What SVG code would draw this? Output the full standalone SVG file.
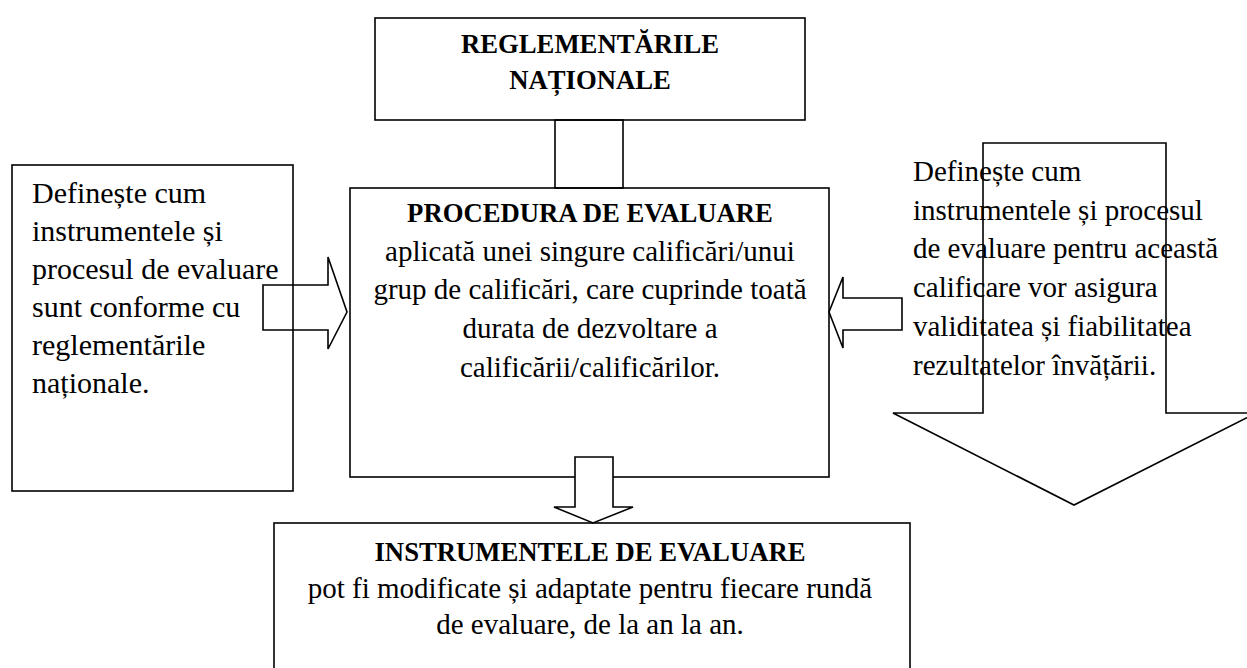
<svg xmlns="http://www.w3.org/2000/svg" width="1247" height="668" viewBox="0 0 1247 668">
<style>
.box{fill:#fff;stroke:#000;stroke-width:1.6}
.arr{fill:none;stroke:#000;stroke-width:1.6;stroke-linejoin:miter}
.arrf{fill:#fff;stroke:#000;stroke-width:1.6;stroke-linejoin:miter}
.t{font-family:"Liberation Serif","Times New Roman",serif;font-size:29px;fill:#000}
.tl{font-family:"Liberation Serif","Times New Roman",serif;font-size:30px;fill:#000}
.b{font-family:"Liberation Serif","Times New Roman",serif;font-size:26.7px;font-weight:bold;fill:#000}
.c{text-anchor:middle}
</style>
<rect width="1247" height="668" fill="#fff"/>
<g id="top-node">
<rect class="box" x="375" y="18" width="430" height="102"/>
<text class="b c" x="590" y="53">REGLEMENTĂRILE</text>
<text class="b c" x="590" y="89">NAȚIONALE</text>
</g>
<g id="left-node">
<rect class="box" x="12" y="165" width="281" height="326"/>
<text class="tl" x="32" y="203">Definește cum</text>
<text class="tl" x="32" y="241">instrumentele și</text>
<text class="tl" x="32" y="279">procesul de evaluare</text>
<text class="tl" x="32" y="317">sunt conforme cu</text>
<text class="tl" x="32" y="355">reglementările</text>
<text class="tl" x="32" y="393">naționale.</text>
</g>
<g id="main-node">
<rect class="box" x="350" y="188" width="479" height="289"/>
<text class="b c" x="590" y="222">PROCEDURA DE EVALUARE</text>
<text class="t c" x="590" y="261">aplicată unei singure calificări/unui</text>
<text class="t c" x="590" y="299">grup de calificări, care cuprinde toată</text>
<text class="t c" x="590" y="338">durata de dezvoltare a</text>
<text class="t c" x="590" y="377">calificării/calificărilor.</text>
</g>
<g id="bottom-node">
<rect class="box" x="274" y="523" width="636" height="150"/>
<text class="b c" x="590" y="561">INSTRUMENTELE DE EVALUARE</text>
<text class="t c" x="590" y="598">pot fi modificate și adaptate pentru fiecare rundă</text>
<text class="t c" x="590" y="634">de evaluare, de la an la an.</text>
</g>
<g id="connectors">
<rect class="arr" x="555" y="120" width="68" height="68"/>
<polygon class="arr" points="263,285 328,285 328,257 347,312 328,349 328,330 263,330"/>
<polygon class="arr" points="902,298 843,298 843,277 829,312 843,348 843,330 902,330"/>
<polygon class="arrf" points="575,457 613,457 613,507 633,507 593,523 554,507 575,507"/>
<polygon class="arr" points="983,143 1166,143 1166,413 1256,413 1074,505 893,413 983,413"/>
</g>
<g id="right-text">
<text class="t" x="913" y="181">Definește cum</text>
<text class="t" x="913" y="220">instrumentele și procesul</text>
<text class="t" x="913" y="258">de evaluare pentru această</text>
<text class="t" x="913" y="297">calificare vor asigura</text>
<text class="t" x="913" y="336">validitatea și fiabilitatea</text>
<text class="t" x="913" y="375">rezultatelor învățării.</text>
</g>
</svg>
